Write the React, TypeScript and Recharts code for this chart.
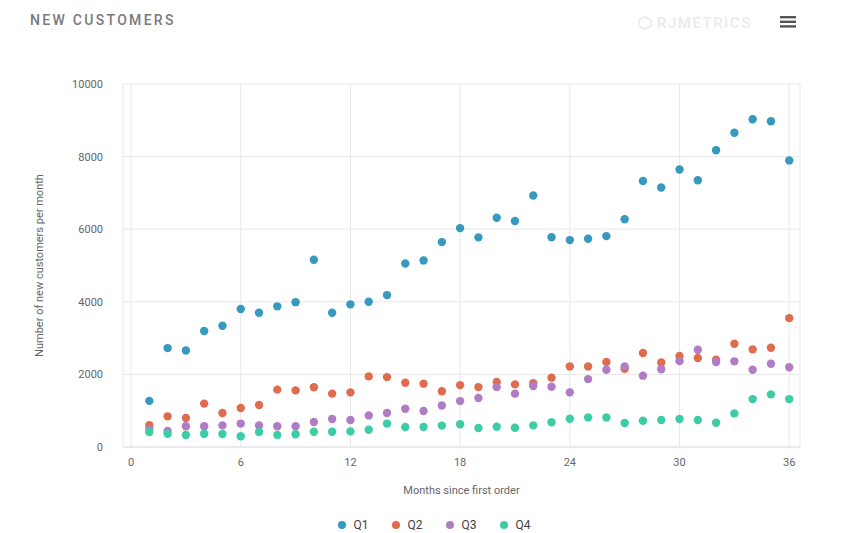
import React from 'react';
import { ScatterChart, Scatter, XAxis, YAxis, CartesianGrid } from 'recharts';

const months = [1,2,3,4,5,6,7,8,9,10,11,12,13,14,15,16,17,18,19,20,21,22,23,24,25,26,27,28,29,30,31,32,33,34,35,36];
const q1 = [1270,2725,2660,3195,3340,3800,3700,3875,3990,5160,3700,3930,4000,4185,5055,5140,5645,6030,5775,6315,6225,6930,5780,5700,5735,5810,6275,7330,7150,7645,7350,8175,8655,9030,8975,7895];
const q2 = [600,845,800,1195,935,1075,1155,1580,1560,1645,1470,1505,1945,1925,1770,1745,1535,1705,1650,1790,1725,1760,1910,2220,2220,2340,2155,2590,2330,2505,2450,2405,2845,2690,2735,3550];
const q3 = [500,440,570,570,595,645,595,570,570,690,770,745,870,935,1055,990,1145,1265,1350,1650,1470,1680,1660,1505,1870,2130,2220,1965,2140,2365,2680,2340,2360,2130,2295,2195];
const q4 = [415,365,330,365,360,295,415,330,350,420,420,430,475,645,550,550,590,625,525,560,530,595,680,780,815,815,660,725,745,770,745,670,925,1320,1450,1320];

const xTicks = [0,6,12,18,24,30,36];
const yTicks = [0,2000,4000,6000,8000,10000];

const seriesNames = ['Q1','Q2','Q3','Q4'];
const seriesColors = ['#3599c0','#e06c4f','#b07cc4','#3ccca6'];
const seriesValues = [q1,q2,q3,q4];

const toPoints = (vals: number[]) => months.map((m, i) => ({ x: m, y: vals[i] }));

const font = 'Roboto, "Liberation Sans", Arial, sans-serif';

const Dot = (color: string) => (props: any) => (
  <circle cx={props.cx} cy={props.cy} r={4.2} fill={color} />
);

export default function App() {
  return (
    <div style={{ position: 'absolute', left: 0, top: 0, width: 853, height: 533, background: '#fff', fontFamily: font }}>
      <div style={{ position: 'absolute', left: 30, top: 12, fontSize: 14, letterSpacing: 2.3, color: '#7a7a7a', fontWeight: 500 }}>
        NEW CUSTOMERS
      </div>
      <div style={{ position: 'absolute', left: 638, top: 14, fontSize: 15, letterSpacing: 1.5, color: '#ebebeb', fontWeight: 500, display: 'flex', alignItems: 'center' }}>
        <svg width={14} height={14} style={{ marginRight: 5 }}>
          <polygon points="7,1 13,4 13,10 7,13 1,10 1,4" fill="none" stroke="#ebebeb" strokeWidth={1.6} />
        </svg>
        RJMETRICS
      </div>
      <svg width={16} height={12} style={{ position: 'absolute', left: 780, top: 16 }}>
        <rect x={0} y={0} width={16} height={2.4} fill="#555" />
        <rect x={0} y={4.6} width={16} height={2.4} fill="#555" />
        <rect x={0} y={9.2} width={16} height={2.4} fill="#555" />
      </svg>
      <div style={{ position: 'absolute', left: 0, top: 0 }}>
        <ScatterChart width={853} height={533} margin={{ top: 84, right: 53, left: 30, bottom: 56 }}>
          <CartesianGrid stroke="#e8e8e8" strokeWidth={1} vertical={true} horizontal={true} />
          <XAxis
            type="number"
            dataKey="x"
            domain={[-0.44, 36.59]}
            ticks={xTicks}
            allowDataOverflow
            height={30}
            axisLine={{ stroke: '#dde3ea' }}
            tickLine={false}
            tick={{ fill: '#666', fontSize: 11, fontFamily: font }}
            tickMargin={5}
            label={(p: any) => {
              const vb = p.viewBox;
              return (
                <text x={vb.x + vb.width / 2} y={vb.y + 43} textAnchor="middle" dominantBaseline="central" fill="#666" fontSize={11} fontFamily={font}>
                  Months since first order
                </text>
              );
            }}
          />
          <YAxis
            type="number"
            dataKey="y"
            domain={[0, 10000]}
            ticks={yTicks}
            width={93}
            axisLine={false}
            tickLine={false}
            tick={{ fill: '#666', fontSize: 11, fontFamily: font }}
            tickMargin={14}
            label={(p: any) => {
              const vb = p.viewBox;
              const cx = vb.x + 9;
              const cy = vb.y + vb.height / 2;
              return (
                <text x={cx} y={cy} transform={`rotate(-90 ${cx} ${cy})`} textAnchor="middle" dominantBaseline="central" fill="#666" fontSize={11} fontFamily={font}>
                  Number of new customers per month
                </text>
              );
            }}
          />
          {seriesValues.map((vals, i) => (
            <Scatter
              key={seriesNames[i]}
              name={seriesNames[i]}
              data={toPoints(vals)}
              fill={seriesColors[i]}
              shape={Dot(seriesColors[i])}
              isAnimationActive={false}
            />
          ))}
        </ScatterChart>
      </div>
      <div style={{ position: 'absolute', left: 0, top: 518, width: 853, display: 'flex', justifyContent: 'center', paddingLeft: 14, boxSizing: 'border-box' }}>
        {seriesNames.map((n, i) => (
          <div key={n} style={{ display: 'flex', alignItems: 'center', marginRight: i < 3 ? 22 : 0, fontSize: 12, color: '#444' }}>
            <svg width={10} height={10} style={{ marginRight: 7 }}>
              <circle cx={5} cy={5} r={4} fill={seriesColors[i]} />
            </svg>
            {n}
          </div>
        ))}
      </div>
    </div>
  );
}
